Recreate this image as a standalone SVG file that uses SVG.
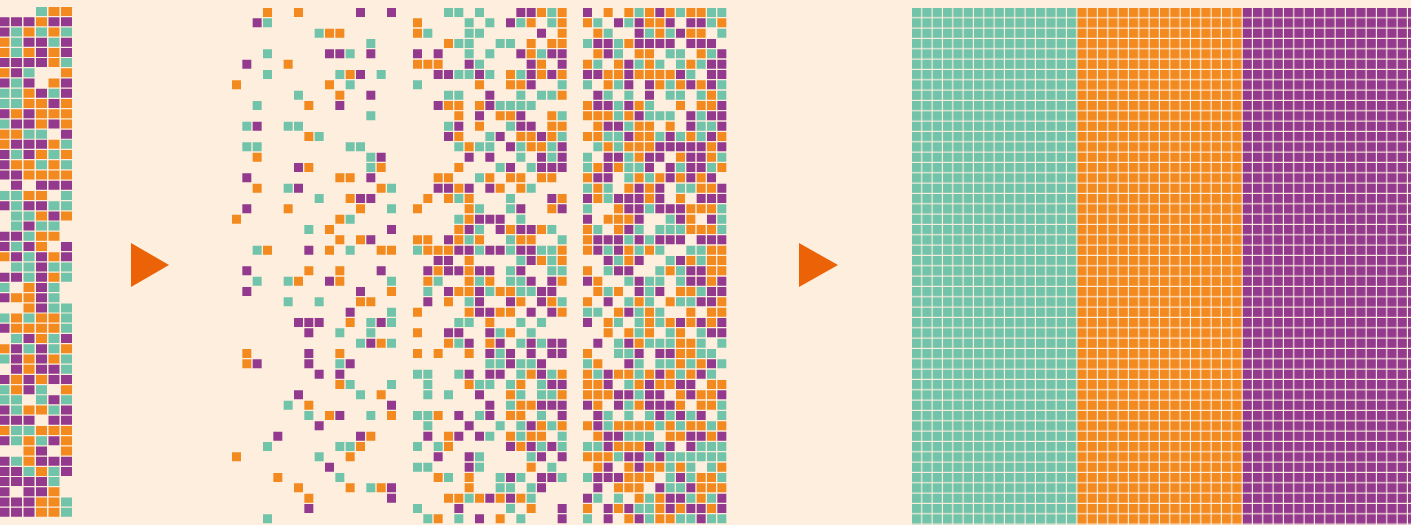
<svg xmlns="http://www.w3.org/2000/svg" width="1411" height="525" viewBox="0 0 1411 525">
<style>
.o{stroke:#F38A20}.t{stroke:#71C3A9}.p{stroke:#943A8E}
.c path{fill:none;stroke-width:.87}
.l path{fill:none;stroke-width:.88}
.arrow{fill:#EC6207}
</style>
<defs>
<pattern id="gt" patternUnits="userSpaceOnUse" x="912" y="8" width="10.3333" height="10.3333"><rect width="9.2" height="9.2" fill="#71C3A9"/></pattern>
<pattern id="go" patternUnits="userSpaceOnUse" x="912" y="8" width="10.3333" height="10.3333"><rect width="9.2" height="9.2" fill="#F38A20"/></pattern>
<pattern id="gp" patternUnits="userSpaceOnUse" x="912" y="8" width="10.3333" height="10.3333"><rect width="9.2" height="9.2" fill="#943A8E"/></pattern>
</defs>
<rect width="1411" height="525" fill="#FDEEDD"/>

<g id="source-panel" class="l" transform="translate(-1.5 11.5) scale(12.5 10.22)">
<path class="o" d="M4 0h.88M5 0h.88M3 1h.88M2 2h.88M4 2h.88M0 3h.88M0 4h.88M2 4h.88M4 4h.88M4 5h.88M0 6h.88M5 6h.88M4 7h.88M2 8h.88M2 9h.88M3 9h.88M5 9h.88M1 10h.88M3 10h.88M4 10h.88M5 10h.88M3 11h.88M5 11h.88M0 12h.88M1 12h.88M0 13h.88M4 13h.88M3 14h.88M5 14h.88M1 15h.88M2 15h.88M4 15h.88M2 16h.88M3 16h.88M4 16h.88M5 16h.88M2 18h.88M3 18h.88M3 20h.88M5 20h.88M3 22h.88M4 22h.88M3 23h.88M0 24h.88M4 24h.88M4 26h.88M2 27h.88M1 28h.88M2 28h.88M2 29h.88M1 30h.88M3 30h.88M4 30h.88M1 31h.88M2 31h.88M3 31h.88M4 31h.88M3 32h.88M0 33h.88M5 33h.88M2 34h.88M4 34h.88M2 35h.88M1 36h.88M3 36h.88M1 37h.88M5 37h.88M2 39h.88M3 39h.88M0 41h.88M3 41h.88M4 41h.88M5 41h.88M2 42h.88M5 42h.88M2 43h.88M5 43h.88M2 44h.88M3 45h.88M4 47h.88M3 48h.88M4 48h.88M3 49h.88M4 49h.88"/>
<path class="t" d="M3 0h.88M1 2h.88M3 2h.88M5 2h.88M1 3h.88M4 3h.88M1 4h.88M5 5h.88M2 6h.88M1 7h.88M0 8h.88M1 8h.88M4 8h.88M0 9h.88M1 9h.88M0 11h.88M2 12h.88M3 12h.88M5 13h.88M1 14h.88M4 14h.88M3 15h.88M5 15h.88M0 18h.88M1 18h.88M5 18h.88M1 19h.88M4 19h.88M5 19h.88M1 20h.88M2 20h.88M1 21h.88M3 21h.88M4 21h.88M2 22h.88M1 23h.88M2 24h.88M1 25h.88M2 25h.88M4 25h.88M5 25h.88M2 26h.88M5 26h.88M0 27h.88M4 27h.88M4 28h.88M4 29h.88M5 29h.88M0 30h.88M2 30h.88M5 30h.88M5 31h.88M1 32h.88M4 32h.88M2 33h.88M4 33h.88M0 34h.88M5 34h.88M5 35h.88M0 37h.88M3 37h.88M0 38h.88M1 38h.88M3 38h.88M5 38h.88M1 39h.88M4 39h.88M1 41h.88M2 41h.88M1 42h.88M3 42h.88M1 44h.88M2 45h.88M4 45h.88M4 46h.88M5 48h.88M5 49h.88"/>
<path class="p" d="M0 1h.88M1 1h.88M2 1h.88M4 1h.88M5 1h.88M0 2h.88M2 3h.88M3 3h.88M5 3h.88M3 4h.88M5 4h.88M0 5h.88M1 5h.88M2 5h.88M3 5h.88M1 6h.88M0 7h.88M2 7h.88M5 7h.88M3 8h.88M5 8h.88M4 9h.88M0 10h.88M2 10h.88M1 11h.88M2 11h.88M4 11h.88M5 12h.88M1 13h.88M2 13h.88M3 13h.88M0 14h.88M2 14h.88M0 15h.88M0 16h.88M1 16h.88M1 17h.88M3 17h.88M4 17h.88M5 17h.88M0 19h.88M2 19h.88M3 19h.88M4 20h.88M2 21h.88M0 22h.88M1 22h.88M0 23h.88M2 23h.88M5 23h.88M1 24h.88M3 24h.88M5 24h.88M3 25h.88M0 26h.88M1 26h.88M3 26h.88M3 27h.88M0 28h.88M3 28h.88M3 29h.88M0 31h.88M2 32h.88M5 32h.88M1 33h.88M3 33h.88M1 34h.88M3 34h.88M1 35h.88M3 35h.88M4 35h.88M0 36h.88M2 36h.88M4 36h.88M5 36h.88M2 37h.88M4 38h.88M0 39h.88M5 39h.88M0 40h.88M1 40h.88M2 40h.88M4 40h.88M5 40h.88M0 42h.88M4 42h.88M3 43h.88M0 44h.88M3 44h.88M4 44h.88M5 44h.88M0 45h.88M1 45h.88M5 45h.88M0 46h.88M1 46h.88M2 46h.88M3 46h.88M0 47h.88M2 47h.88M3 47h.88M0 48h.88M1 48h.88M2 48h.88M0 49h.88M1 49h.88M2 49h.88"/>
</g>

<polygon id="arrow-1" class="arrow" points="131,243 131,287 169,265"/>

<g id="mixed-panel">
<g id="mixed-sparse" class="c" transform="translate(232 12.5) scale(10.3333)">
<path class="o" d="M3 0h.87M6 0h.87M9 2h.87M10 2h.87M5 5h.87M11 6h.87M0 7h.87M9 7h.87M10 8h.87M7 9h.87M7 12h.87M2 14h.87M7 15h.87M14 15h.87M10 16h.87M11 16h.87M2 17h.87M14 17h.87M11 18h.87M5 19h.87M12 19h.87M0 20h.87M10 20h.87M9 21h.87M10 22h.87M12 22h.87M3 23h.87M9 23h.87M14 23h.87M15 23h.87M7 25h.87M10 25h.87M6 26h.87M10 26h.87M15 27h.87M12 28h.87M13 28h.87M11 30h.87M14 32h.87M1 33h.87M10 33h.87M1 34h.87M10 36h.87M14 37h.87M7 38h.87M9 39h.87M15 39h.87M13 41h.87M12 42h.87M0 43h.87M11 43h.87M4 45h.87M6 46h.87M11 46h.87M14 46h.87M7 47h.87"/>
<path class="t" d="M3 1h.87M8 2h.87M13 3h.87M3 4h.87M11 4h.87M3 6h.87M10 6h.87M14 6h.87M11 7h.87M6 8h.87M2 9h.87M13 10h.87M1 11h.87M5 11h.87M6 11h.87M8 12h.87M1 13h.87M2 13h.87M11 13h.87M12 13h.87M13 14h.87M13 15h.87M5 17h.87M15 17h.87M8 18h.87M15 19h.87M11 20h.87M7 21h.87M2 23h.87M11 23h.87M2 26h.87M5 26h.87M15 26h.87M5 28h.87M8 28h.87M15 29h.87M13 30h.87M15 30h.87M10 31h.87M13 31h.87M12 32h.87M15 32h.87M10 34h.87M11 36h.87M15 36h.87M12 37h.87M5 38h.87M7 39h.87M13 39h.87M3 42h.87M10 42h.87M11 42h.87M8 43h.87M10 45h.87M13 46h.87M3 49h.87"/>
<path class="p" d="M12 0h.87M15 0h.87M2 1h.87M9 4h.87M10 4h.87M13 4h.87M1 5h.87M12 6h.87M13 8h.87M10 9h.87M2 11h.87M14 14h.87M6 15h.87M1 16h.87M13 16h.87M6 17h.87M12 18h.87M13 18h.87M1 19h.87M15 21h.87M13 22h.87M7 23h.87M1 25h.87M14 25h.87M9 26h.87M1 27h.87M12 27h.87M11 29h.87M6 30h.87M7 30h.87M8 30h.87M14 30h.87M7 31h.87M13 32h.87M7 33h.87M2 34h.87M7 34h.87M11 34h.87M8 35h.87M10 35h.87M6 37h.87M15 38h.87M10 39h.87M8 40h.87M4 41h.87M12 41h.87M9 44h.87M15 46h.87M15 47h.87M7 48h.87"/>
</g>
<g id="mixed-medium" class="c" transform="translate(413 12.5) scale(10.3333)">
<path class="o" d="M12 0h.87M14 0h.87M0 1h.87M11 1h.87M14 1h.87M0 2h.87M14 2h.87M3 3h.87M11 3h.87M13 3h.87M14 3h.87M11 4h.87M0 5h.87M1 5h.87M2 5h.87M12 5h.87M9 6h.87M12 6h.87M14 6h.87M6 7h.87M9 7h.87M10 7h.87M14 8h.87M3 9h.87M4 9h.87M6 9h.87M4 10h.87M8 10h.87M9 10h.87M13 10h.87M6 11h.87M13 11h.87M14 11h.87M4 12h.87M10 12h.87M11 12h.87M13 12h.87M5 13h.87M11 13h.87M12 13h.87M4 15h.87M2 16h.87M3 16h.87M7 16h.87M9 16h.87M10 16h.87M12 16h.87M13 16h.87M4 17h.87M8 17h.87M10 17h.87M1 18h.87M3 18h.87M5 18h.87M14 18h.87M0 19h.87M5 19h.87M13 19h.87M5 20h.87M4 21h.87M9 21h.87M12 21h.87M0 22h.87M1 22h.87M4 22h.87M6 22h.87M10 22h.87M11 22h.87M1 23h.87M2 23h.87M3 23h.87M14 23h.87M5 24h.87M12 24h.87M14 24h.87M2 25h.87M5 25h.87M1 26h.87M5 26h.87M7 26h.87M14 26h.87M4 27h.87M5 27h.87M8 27h.87M9 27h.87M3 28h.87M10 28h.87M13 28h.87M0 29h.87M5 29h.87M8 29h.87M9 29h.87M14 29h.87M7 30h.87M0 31h.87M9 31h.87M3 32h.87M7 32h.87M0 33h.87M2 33h.87M5 33h.87M11 35h.87M14 35h.87M5 36h.87M10 36h.87M9 37h.87M14 37h.87M10 38h.87M11 38h.87M2 39h.87M9 39h.87M10 39h.87M12 40h.87M14 40h.87M3 41h.87M9 41h.87M11 41h.87M12 41h.87M3 42h.87M10 42h.87M11 44h.87M2 45h.87M5 45h.87M5 46h.87M3 47h.87M4 47h.87M6 47h.87M8 47h.87M10 47h.87M11 48h.87M2 49h.87M8 49h.87"/>
<path class="t" d="M3 0h.87M4 0h.87M6 0h.87M13 0h.87M5 1h.87M7 1h.87M10 1h.87M13 1h.87M1 2h.87M5 2h.87M6 2h.87M4 3h.87M5 3h.87M8 3h.87M9 3h.87M5 4h.87M7 4h.87M12 4h.87M6 5h.87M4 6h.87M5 6h.87M7 6h.87M10 6h.87M0 7h.87M14 7h.87M3 8h.87M4 8h.87M10 8h.87M12 8h.87M13 8h.87M8 9h.87M9 9h.87M10 9h.87M11 9h.87M14 10h.87M3 11h.87M9 11h.87M7 12h.87M14 12h.87M4 13h.87M6 13h.87M7 13h.87M10 13h.87M13 13h.87M10 14h.87M13 14h.87M8 15h.87M11 15h.87M6 16h.87M11 17h.87M4 18h.87M9 18h.87M6 19h.87M9 19h.87M4 20h.87M10 20h.87M6 21h.87M13 21h.87M5 22h.87M9 22h.87M14 22h.87M0 23h.87M6 23h.87M9 23h.87M12 23h.87M13 23h.87M10 24h.87M13 24h.87M9 25h.87M13 25h.87M14 25h.87M2 26h.87M6 26h.87M9 26h.87M10 26h.87M1 27h.87M7 27h.87M10 27h.87M11 27h.87M5 28h.87M14 28h.87M4 30h.87M5 30h.87M10 30h.87M12 30h.87M8 31h.87M11 31h.87M4 32h.87M10 32h.87M12 32h.87M8 33h.87M7 34h.87M8 34h.87M10 34h.87M11 34h.87M0 35h.87M1 35h.87M4 35h.87M10 35h.87M13 35h.87M1 36h.87M6 36h.87M7 36h.87M9 36h.87M12 36h.87M1 37h.87M3 37h.87M10 37h.87M12 37h.87M13 37h.87M9 38h.87M0 39h.87M1 39h.87M6 39h.87M12 39h.87M1 40h.87M8 40h.87M10 40h.87M13 40h.87M7 41h.87M10 41h.87M14 41h.87M0 42h.87M2 42h.87M12 42h.87M14 42h.87M6 43h.87M11 43h.87M0 44h.87M1 44h.87M6 44h.87M13 44h.87M3 45h.87M8 45h.87M10 45h.87M14 45h.87M8 46h.87M9 46h.87M11 46h.87M5 47h.87M11 47h.87M0 48h.87M9 48h.87M1 49h.87M4 49h.87M10 49h.87"/>
<path class="p" d="M10 0h.87M11 0h.87M9 1h.87M12 2h.87M0 4h.87M2 4h.87M10 4h.87M13 4h.87M14 4h.87M5 5h.87M11 5h.87M14 5h.87M2 6h.87M3 6h.87M6 6h.87M11 6h.87M13 6h.87M11 7h.87M7 8h.87M2 9h.87M7 9h.87M6 10h.87M10 10h.87M4 11h.87M10 11h.87M11 11h.87M3 12h.87M8 12h.87M12 12h.87M9 13h.87M14 13h.87M5 14h.87M7 14h.87M12 14h.87M14 14h.87M9 15h.87M12 15h.87M13 15h.87M14 15h.87M2 17h.87M3 17h.87M5 17h.87M7 17h.87M13 18h.87M10 19h.87M14 19h.87M6 20h.87M7 20h.87M8 20h.87M5 21h.87M8 21h.87M10 21h.87M11 21h.87M3 22h.87M4 23h.87M5 23h.87M7 23h.87M8 23h.87M10 23h.87M11 23h.87M2 24h.87M3 24h.87M11 24h.87M1 25h.87M3 25h.87M4 25h.87M6 25h.87M7 25h.87M10 25h.87M11 26h.87M13 26h.87M3 27h.87M6 27h.87M12 27h.87M13 27h.87M1 28h.87M6 28h.87M9 28h.87M12 28h.87M6 29h.87M7 29h.87M11 29h.87M13 29h.87M3 31h.87M4 31h.87M7 31h.87M5 32h.87M8 32h.87M11 32h.87M13 32h.87M14 32h.87M7 33h.87M9 33h.87M11 33h.87M13 33h.87M14 33h.87M9 34h.87M12 34h.87M5 35h.87M7 35h.87M8 35h.87M12 35h.87M13 36h.87M14 36h.87M6 37h.87M7 38h.87M12 38h.87M13 38h.87M14 38h.87M4 39h.87M7 39h.87M14 39h.87M5 40h.87M11 40h.87M1 41h.87M4 41h.87M6 41h.87M9 42h.87M11 42h.87M13 42h.87M2 43h.87M5 43h.87M12 43h.87M14 43h.87M5 44h.87M9 45h.87M12 45h.87M13 45h.87M12 46h.87M7 47h.87M9 47h.87M4 48h.87M14 48h.87M6 49h.87M14 49h.87"/>
</g>
<g id="mixed-dense" class="c" transform="translate(583 12.5) scale(10.3333)">
<path class="o" d="M2 0h.87M4 0h.87M6 0h.87M8 0h.87M10 0h.87M11 0h.87M0 1h.87M6 1h.87M7 1h.87M13 1h.87M1 2h.87M7 2h.87M10 2h.87M11 2h.87M4 3h.87M1 4h.87M5 4h.87M6 4h.87M11 4h.87M0 5h.87M3 5h.87M6 5h.87M10 5h.87M2 6h.87M3 6h.87M5 6h.87M6 6h.87M7 6h.87M8 6h.87M2 7h.87M7 7h.87M9 7h.87M11 7h.87M12 8h.87M0 9h.87M5 9h.87M9 9h.87M11 9h.87M12 9h.87M0 10h.87M1 10h.87M2 10h.87M4 10h.87M1 11h.87M5 11h.87M6 11h.87M8 11h.87M0 12h.87M1 12h.87M5 12h.87M6 12h.87M10 12h.87M13 12h.87M2 13h.87M4 13h.87M5 13h.87M6 13h.87M12 13h.87M5 14h.87M9 14h.87M12 14h.87M1 15h.87M3 15h.87M13 15h.87M0 16h.87M5 16h.87M7 16h.87M9 16h.87M11 16h.87M1 17h.87M4 17h.87M6 17h.87M11 17h.87M12 17h.87M1 18h.87M6 18h.87M9 18h.87M3 19h.87M10 19h.87M11 19h.87M12 19h.87M2 20h.87M3 20h.87M4 20h.87M10 20h.87M0 21h.87M3 21h.87M10 21h.87M11 21h.87M12 21h.87M0 22h.87M0 23h.87M4 23h.87M6 23h.87M12 23h.87M13 23h.87M4 24h.87M10 24h.87M12 24h.87M13 24h.87M0 25h.87M8 25h.87M12 25h.87M13 25h.87M1 26h.87M12 26h.87M1 27h.87M3 27h.87M9 27h.87M10 27h.87M0 28h.87M5 28h.87M8 28h.87M13 28h.87M3 29h.87M6 29h.87M10 29h.87M12 29h.87M13 29h.87M2 30h.87M6 30h.87M8 30h.87M10 30h.87M12 30h.87M2 31h.87M4 31h.87M6 31h.87M9 31h.87M5 32h.87M9 32h.87M10 32h.87M0 33h.87M9 33h.87M10 33h.87M1 34h.87M9 34h.87M11 34h.87M0 35h.87M3 35h.87M4 35h.87M6 35h.87M8 35h.87M10 35h.87M0 36h.87M1 36h.87M5 36h.87M7 36h.87M8 36h.87M12 36h.87M13 36h.87M0 37h.87M1 37h.87M2 37h.87M9 37h.87M11 37h.87M12 37h.87M1 38h.87M5 38h.87M9 38h.87M11 38h.87M12 38h.87M0 40h.87M3 40h.87M4 40h.87M5 40h.87M6 40h.87M8 40h.87M10 40h.87M11 40h.87M13 40h.87M1 41h.87M8 41h.87M9 41h.87M12 41h.87M3 42h.87M4 42h.87M5 42h.87M0 43h.87M1 43h.87M2 43h.87M1 44h.87M4 44h.87M6 44h.87M7 44h.87M9 44h.87M13 44h.87M4 45h.87M5 45h.87M6 45h.87M11 45h.87M12 45h.87M3 46h.87M4 46h.87M5 46h.87M11 46h.87M12 46h.87M13 46h.87M5 47h.87M7 47h.87M11 47h.87M0 48h.87M3 48h.87M7 48h.87M9 48h.87M12 48h.87M4 49h.87M7 49h.87M8 49h.87"/>
<path class="t" d="M5 0h.87M9 0h.87M12 0h.87M13 0h.87M1 1h.87M4 1h.87M12 1h.87M2 2h.87M6 2h.87M8 2h.87M13 2h.87M0 3h.87M3 3h.87M3 4h.87M8 4h.87M9 4h.87M12 4h.87M1 5h.87M5 5h.87M7 5h.87M9 5h.87M11 5h.87M10 6h.87M0 7h.87M3 7h.87M8 7h.87M13 7h.87M2 8h.87M4 8h.87M8 8h.87M9 8h.87M11 8h.87M13 8h.87M3 9h.87M6 9h.87M3 10h.87M6 10h.87M7 10h.87M8 10h.87M11 10h.87M4 11h.87M11 11h.87M12 11h.87M2 12h.87M3 12h.87M7 12h.87M9 12h.87M11 12h.87M1 13h.87M3 13h.87M0 14h.87M4 14h.87M13 14h.87M0 15h.87M4 15h.87M5 15h.87M9 15h.87M12 15h.87M4 16h.87M6 16h.87M0 17h.87M2 17h.87M9 17h.87M10 17h.87M2 18h.87M0 19h.87M6 19h.87M13 19h.87M8 20h.87M13 20h.87M1 21h.87M5 21h.87M7 21h.87M8 21h.87M9 21h.87M13 21h.87M4 22h.87M6 22h.87M2 23h.87M5 23h.87M7 23h.87M10 23h.87M11 23h.87M3 24h.87M8 24h.87M11 24h.87M2 25h.87M7 25h.87M9 25h.87M4 26h.87M6 26h.87M7 26h.87M9 26h.87M2 27h.87M6 27h.87M11 27h.87M4 28h.87M6 28h.87M9 28h.87M10 28h.87M0 29h.87M1 29h.87M5 29h.87M7 29h.87M3 30h.87M5 30h.87M7 30h.87M5 31h.87M8 31h.87M11 31h.87M3 32h.87M6 32h.87M7 32h.87M8 32h.87M11 32h.87M13 32h.87M3 33h.87M4 33h.87M11 33h.87M12 33h.87M0 34h.87M5 34h.87M7 34h.87M8 34h.87M10 34h.87M13 34h.87M1 35h.87M5 35h.87M9 35h.87M12 35h.87M4 36h.87M5 37h.87M4 38h.87M13 38h.87M2 39h.87M4 39h.87M6 39h.87M8 39h.87M10 39h.87M13 39h.87M2 40h.87M7 40h.87M9 40h.87M12 40h.87M4 41h.87M5 41h.87M6 41h.87M0 42h.87M1 42h.87M7 42h.87M11 42h.87M12 42h.87M13 42h.87M3 43h.87M6 43h.87M8 43h.87M9 43h.87M10 43h.87M11 43h.87M12 43h.87M13 43h.87M8 44h.87M10 44h.87M12 44h.87M0 45h.87M8 45h.87M10 45h.87M13 45h.87M8 46h.87M9 46h.87M1 47h.87M3 47h.87M6 47h.87M10 47h.87M12 47h.87M5 48h.87M6 48h.87M0 49h.87M6 49h.87M9 49h.87M10 49h.87M12 49h.87M13 49h.87"/>
<path class="p" d="M0 0h.87M7 0h.87M3 1h.87M5 1h.87M8 1h.87M10 1h.87M11 1h.87M5 2h.87M9 2h.87M1 3h.87M2 3h.87M5 3h.87M6 3h.87M7 3h.87M8 3h.87M10 3h.87M11 3h.87M12 3h.87M2 4h.87M13 4h.87M4 5h.87M12 5h.87M13 5h.87M0 6h.87M1 6h.87M4 6h.87M9 6h.87M12 6h.87M13 6h.87M4 7h.87M6 7h.87M10 7h.87M12 7h.87M1 8h.87M6 8h.87M1 9h.87M2 9h.87M4 9h.87M13 9h.87M5 10h.87M10 10h.87M12 10h.87M13 10h.87M2 11h.87M3 11h.87M10 11h.87M13 11h.87M4 12h.87M8 12h.87M12 12h.87M7 13h.87M8 13h.87M9 13h.87M10 13h.87M11 13h.87M13 13h.87M2 14h.87M3 14h.87M6 14h.87M7 14h.87M10 14h.87M11 14h.87M2 15h.87M6 15h.87M8 15h.87M10 15h.87M11 15h.87M1 16h.87M2 16h.87M8 16h.87M10 16h.87M12 16h.87M5 17h.87M7 17h.87M13 17h.87M0 18h.87M3 18h.87M4 18h.87M5 18h.87M7 18h.87M11 18h.87M12 18h.87M13 18h.87M4 19h.87M5 19h.87M7 19h.87M8 19h.87M9 19h.87M0 20h.87M5 20h.87M9 20h.87M12 20h.87M4 21h.87M1 22h.87M2 22h.87M3 22h.87M5 22h.87M7 22h.87M8 22h.87M9 22h.87M11 22h.87M12 22h.87M13 22h.87M1 23h.87M3 23h.87M2 24h.87M5 24h.87M9 24h.87M3 25h.87M4 25h.87M10 25h.87M11 25h.87M0 26h.87M5 26h.87M10 26h.87M11 26h.87M13 26h.87M5 27h.87M7 27h.87M12 27h.87M13 27h.87M2 28h.87M11 28h.87M12 28h.87M4 29h.87M0 30h.87M9 30h.87M11 30h.87M13 30h.87M12 31h.87M13 31h.87M1 32h.87M4 32h.87M5 33h.87M7 33h.87M8 33h.87M4 34h.87M12 34h.87M2 35h.87M7 35h.87M11 35h.87M2 36h.87M6 36h.87M9 36h.87M10 36h.87M3 37h.87M4 37h.87M6 37h.87M7 37h.87M10 37h.87M13 37h.87M0 38h.87M3 38h.87M6 38h.87M7 38h.87M8 38h.87M1 39h.87M7 39h.87M9 39h.87M11 39h.87M1 40h.87M2 41h.87M3 41h.87M10 41h.87M11 41h.87M13 41h.87M2 42h.87M6 42h.87M8 42h.87M10 42h.87M4 43h.87M5 43h.87M7 43h.87M2 44h.87M5 44h.87M1 45h.87M2 45h.87M3 45h.87M9 45h.87M1 46h.87M7 46h.87M10 46h.87M0 47h.87M8 47h.87M9 47h.87M13 47h.87M2 48h.87M4 48h.87M8 48h.87M10 48h.87M11 48h.87M13 48h.87M2 49h.87M5 49h.87M11 49h.87"/>
</g>
</g>

<polygon id="arrow-2" class="arrow" points="799,243 799,287 838,265"/>

<g id="sorted-panel">
<rect id="sorted-teal" x="912" y="8" width="165.333" height="516.667" fill="url(#gt)"/>
<rect id="sorted-orange" x="1077.333" y="8" width="165.333" height="516.667" fill="url(#go)"/>
<rect id="sorted-purple" x="1242.667" y="8" width="168.333" height="516.667" fill="url(#gp)"/>
</g>
</svg>
